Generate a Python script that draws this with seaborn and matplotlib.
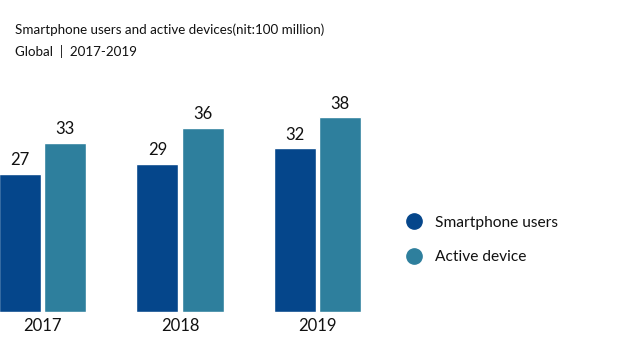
import matplotlib
matplotlib.use("Agg")
import matplotlib.pyplot as plt
import seaborn as sns
import pandas as pd
from matplotlib.lines import Line2D

years = ["2017", "2018", "2019"]
series_names = ["Smartphone users", "Active device"]
smartphone_users = [27, 29, 32]
active_device = [33, 36, 38]
colors = ["#05468b", "#2e7f9d"]

sns.set_theme(style="white")
plt.rcParams["font.family"] = ["Lato", "DejaVu Sans"]

df = pd.DataFrame({
    "year": years * 2,
    "series": [series_names[0]] * 3 + [series_names[1]] * 3,
    "value": smartphone_users + active_device,
})

fig = plt.figure(figsize=(6.17, 3.43), dpi=100)
ax = fig.add_axes([0, 31 / 343, 1, 222 / 343])
sns.barplot(data=df, x="year", y="value", hue="series", palette=colors,
            width=0.66, gap=0.07, ax=ax, legend=False, saturation=1)

for c in ax.containers:
    ax.bar_label(c, fmt="%d", padding=4, fontsize=12, color="#111111")

ax.set_xlim(-42.5 / 137.5, (617 - 42.5) / 137.5)
ax.set_ylim(0, 222 / 5.12)
ax.set_xlabel("")
ax.set_ylabel("")
ax.set_yticks([])
ax.tick_params(axis="x", length=0, labelsize=12, pad=4, labelcolor="#111111")
for s in ax.spines.values():
    s.set_visible(False)

handles = [Line2D([], [], marker="o", linestyle="", markersize=11,
                  markerfacecolor=col, markeredgecolor=col) for col in colors]
leg = fig.legend(handles, series_names, loc="center left",
                 bbox_to_anchor=(384 / 617, 1 - 240 / 343), frameon=False,
                 fontsize=11.2, handletextpad=0.4, labelspacing=1.3)
for t in leg.get_texts():
    t.set_color("#111111")

fig.text(15 / 617, 1 - 30 / 343, "Smartphone users and active devices(nit:100 million)",
         fontsize=9.6, color="#111111", va="center")
fig.text(15 / 617, 1 - 51 / 343, "Global  |  2017-2019",
         fontsize=9.6, color="#111111", va="center")

fig.savefig("out.png", dpi=100)
